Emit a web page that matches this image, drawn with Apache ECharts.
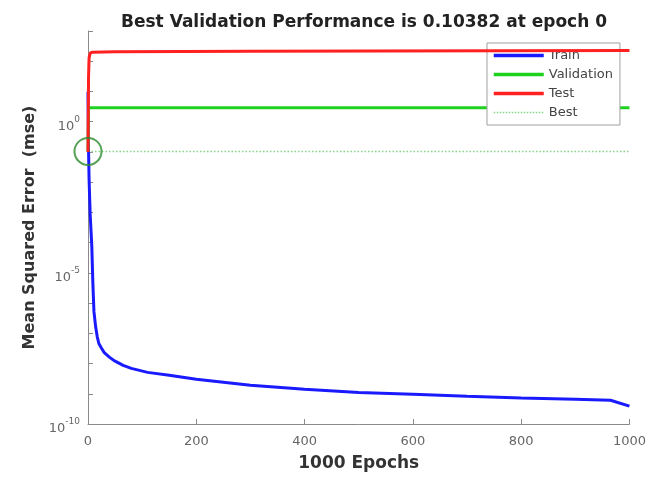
<!DOCTYPE html>
<html><head><meta charset="utf-8">
<script src="https://cdn.jsdelivr.net/npm/echarts@6/dist/echarts.min.js"></script>
<style>html,body{margin:0;padding:0;background:#fff}#c{width:649px;height:477px}</style>
</head><body><div id="c"></div>
<script>
// ---- data ----
const trainEpochs = [0,1,2,4,7,9,11,14,17,20,25,30,40,50,65,80,110,150,200,300,400,500,600,700,800,900,965,1000];
const trainValues = [9.8,0.12,0.0123,8.7e-4,7.8e-5,4.4e-6,5.2e-7,1.7e-7,7.8e-8,4.6e-8,3.2e-8,2.3e-8,1.6e-8,1.2e-8,8.7e-9,6.9e-9,5.1e-9,4.1e-9,3.0e-9,1.9e-9,1.4e-9,1.1e-9,9.7e-10,8.3e-10,7.2e-10,6.6e-10,6.1e-10,3.9e-10];
const validEpochs = [0,1,1000];
const validValues = [0.10382,2.9,2.9];
const testEpochs = [0,1,2,4,8,50,300,1000];
const testValues = [0.1,30,130,185,200,205,212,228];
const bestEpoch = 0;
const bestValue = 0.10382;
const xTicks = [0,200,400,600,800,1000];
const titleText = 'Best Validation Performance is 0.10382 at epoch 0';

const pairs = (xs, ys) => xs.map((x, i) => [x, ys[i]]);
const font = "'DejaVu Sans', 'Liberation Sans', Arial, sans-serif";
const axisGray = '#8a8a8a';
const labelGray = '#666';
const C = {train: '#1a1aff', valid: '#1fd11f', test: '#ff2020', best: '#86d486'};

const chart = echarts.init(document.getElementById('c'), null, {renderer: 'canvas'});
chart.setOption({
  animation: false,
  backgroundColor: '#fff',
  title: {
    text: titleText, left: 359, top: 9, textAlign: 'center',
    textStyle: {fontFamily: font, fontSize: 17, fontWeight: 'bold', color: '#222'}
  },
  grid: {left: 88, right: 18, top: 31, bottom: 51, containLabel: false},
  legend: {
    orient: 'vertical', left: 487, top: 43,
    padding: [5, 7, 5, 5],
    backgroundColor: '#fff', borderColor: '#a0a0a0', borderWidth: 1,
    itemWidth: 50, itemHeight: 10, itemGap: 4,
    itemStyle: {opacity: 0},
    textStyle: {fontFamily: font, fontSize: 13, color: '#444', lineHeight: 15},
    data: [
      {name: 'Train', lineStyle: {width: 3.5, color: C.train}},
      {name: 'Validation', lineStyle: {width: 3.5, color: C.valid}},
      {name: 'Test', lineStyle: {width: 3.5, color: C.test}},
      {name: 'Best', lineStyle: {width: 1.5, color: C.best, type: 'dotted'}}
    ]
  },
  xAxis: {
    type: 'value', min: 0, max: 1000, interval: 200,
    name: '1000 Epochs', nameLocation: 'middle', nameGap: 31,
    nameTextStyle: {fontFamily: font, fontSize: 17, fontWeight: 'bold', color: '#333'},
    axisLine: {show: true, lineStyle: {color: axisGray, width: 1}},
    axisTick: {show: true, inside: true, length: 5, lineStyle: {color: axisGray}},
    axisLabel: {fontFamily: font, fontSize: 13, color: labelGray, margin: 11,
      formatter: function (v) { return String(v); }},
    splitLine: {show: false}
  },
  yAxis: {
    type: 'log', logBase: 10, min: 1e-10, max: 1e3, interval: 1,
    name: 'Mean Squared Error  (mse)', nameLocation: 'middle', nameGap: 50, nameRotate: 90,
    nameTextStyle: {fontFamily: font, fontSize: 16, fontWeight: 'bold', color: '#333'},
    axisLine: {show: true, lineStyle: {color: axisGray, width: 1}},
    axisTick: {show: true, inside: true, length: 5, lineStyle: {color: axisGray}},
    axisLabel: {
      fontFamily: font, margin: 8,
      formatter: function (v) {
        const e = Math.round(Math.log10(v));
        if (e % 5 !== 0) return '';
        return '{b|10}{s|' + e + '}';
      },
      rich: {
        b: {fontFamily: font, fontSize: 13, color: labelGray, verticalAlign: 'bottom', padding: [0, 0, -5, 0]},
        s: {fontFamily: font, fontSize: 9, color: labelGray, verticalAlign: 'bottom', padding: [0, 0, 4, 0]}
      }
    },
    splitLine: {show: false}
  },
  series: [
    {name: 'Best', type: 'line', symbol: 'none', data: [[0, bestValue], [1000, bestValue]],
     lineStyle: {color: C.best, width: 1.5, type: [1.5, 2]}, itemStyle: {color: C.best}, z: 1},
    {name: 'Train', type: 'line', symbol: 'none', data: pairs(trainEpochs, trainValues),
     lineStyle: {color: C.train, width: 3}, itemStyle: {color: C.train}, z: 2},
    {name: 'Validation', type: 'line', symbol: 'none', data: pairs(validEpochs, validValues),
     lineStyle: {color: C.valid, width: 3}, itemStyle: {color: C.valid}, z: 3},
    {name: 'Test', type: 'line', symbol: 'none', data: pairs(testEpochs, testValues),
     lineStyle: {color: C.test, width: 3}, itemStyle: {color: C.test}, z: 4},
    {name: 'BestPoint', type: 'scatter', data: [[bestEpoch, bestValue]], symbol: 'circle', symbolSize: 27,
     itemStyle: {color: 'rgba(0,0,0,0)', borderColor: '#2b8a2b', borderWidth: 2}, z: 5, silent: true}
  ]
});
</script></body></html>
